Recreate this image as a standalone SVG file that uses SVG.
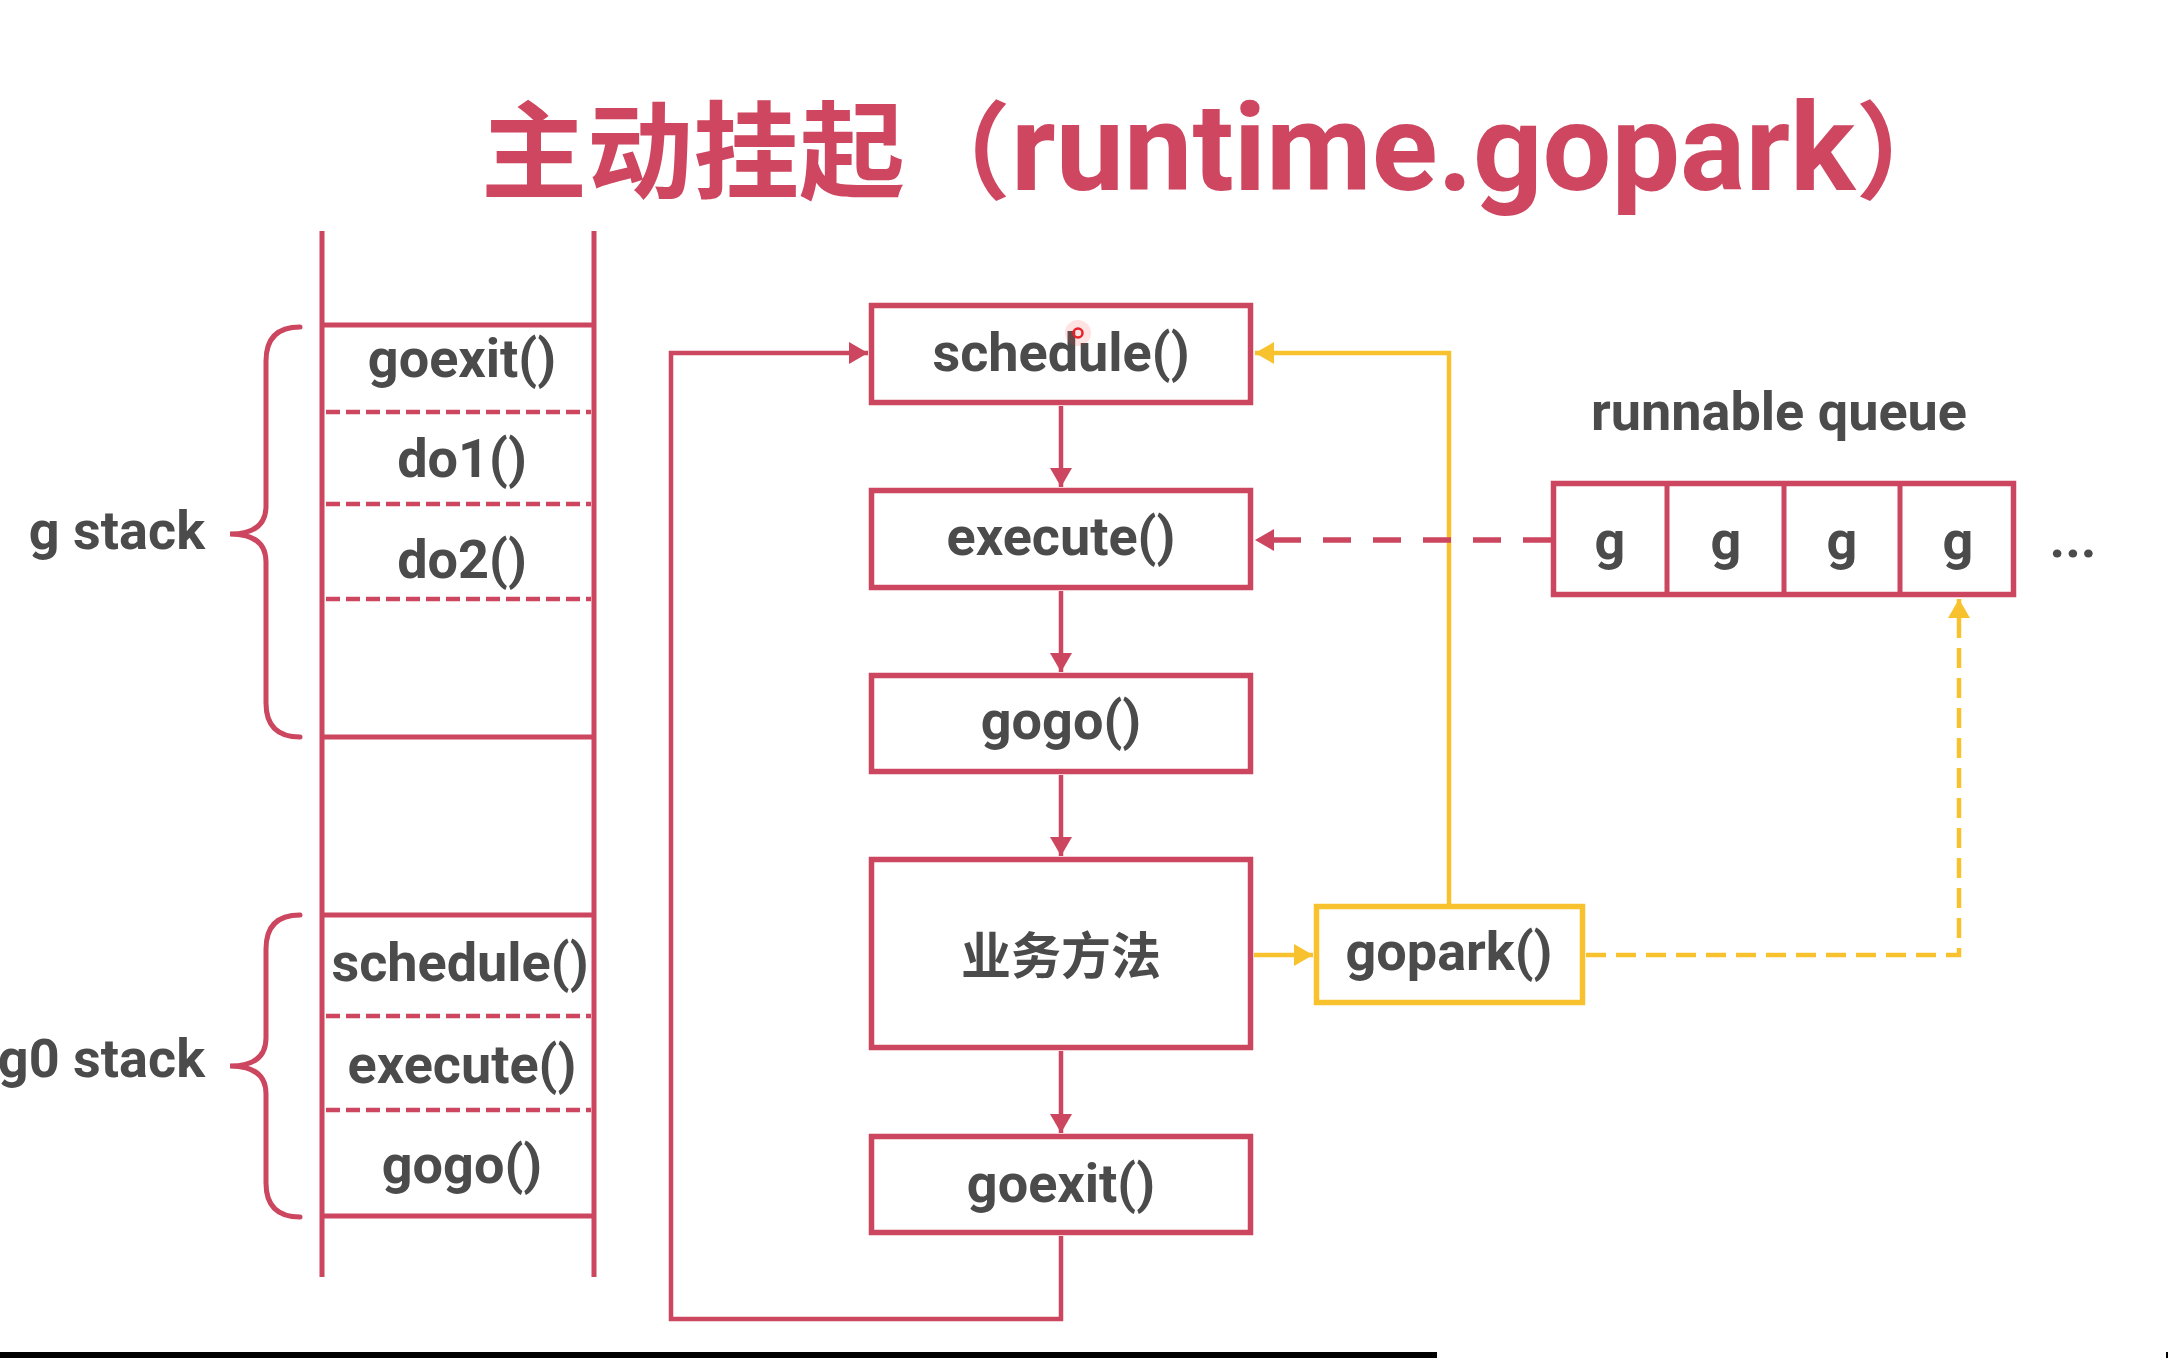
<svg xmlns="http://www.w3.org/2000/svg" width="2168" height="1358" viewBox="0 0 2168 1358">
<style>
.lbl{font-family:Roboto,'Noto Sans CJK SC',sans-serif;font-weight:700;font-size:54px;fill:#4B4B4B;text-anchor:middle}
.cjk{font-family:'Noto Sans CJK SC',sans-serif;font-weight:700;font-size:50px;fill:#4B4B4B;text-anchor:middle}
.side{font-family:Roboto,'Noto Sans CJK SC',sans-serif;font-weight:700;font-size:54px;fill:#4B4B4B;text-anchor:end}
.title{font-family:'Noto Sans CJK SC',sans-serif;font-weight:700;font-size:106px;fill:#CF4660}
.tl{font-family:Roboto,'Noto Sans CJK SC',sans-serif;font-size:122px}
.box{fill:#fff;stroke:#CB465E;stroke-width:5.5}
.ybox{fill:#fff;stroke:#F8C22E;stroke-width:5.5}
.stk{stroke:#CB465E;stroke-width:5;fill:none}
.dsh{stroke:#CB465E;stroke-width:4.5;stroke-dasharray:14 6;fill:none}
.brace{stroke:#CB465E;stroke-width:5;fill:none;stroke-linecap:round}
.rarr{stroke:#CB465E;stroke-width:4.5;fill:none;marker-end:url(#ra)}
.rdash{stroke:#CB465E;stroke-width:5.5;fill:none;stroke-dasharray:28 22;marker-end:url(#ra)}
.yarr{stroke:#F8C22E;stroke-width:4.5;fill:none;marker-end:url(#ya)}
.ydash{stroke:#F8C22E;stroke-width:4.5;fill:none;stroke-dasharray:20 10;marker-end:url(#ya)}
</style>
<defs>
<marker id="ra" markerUnits="userSpaceOnUse" markerWidth="20" markerHeight="22" refX="19" refY="11" orient="auto" viewBox="0 0 20 22">
<path d="M0,0 L19,11 L0,22 Z" fill="#CB465E"/>
</marker>
<marker id="ya" markerUnits="userSpaceOnUse" markerWidth="20" markerHeight="22" refX="19" refY="11" orient="auto" viewBox="0 0 20 22">
<path d="M0,0 L19,11 L0,22 Z" fill="#F8C22E"/>
</marker>
</defs>
<rect x="0" y="0" width="2168" height="1358" fill="#fff"/>

<g id="title">
<text class="title" x="481" y="190">主动挂起（<tspan class="tl">runtime.gopark</tspan>）</text>
</g>

<g id="stack">
<line class="stk" x1="322" y1="231" x2="322" y2="1277"/>
<line class="stk" x1="594" y1="231" x2="594" y2="1277"/>
<line class="stk" x1="322" y1="325" x2="594" y2="325" stroke-width="5.5"/>
<line class="stk" x1="322" y1="737" x2="594" y2="737" stroke-width="5.5"/>
<line class="stk" x1="322" y1="915" x2="594" y2="915" stroke-width="5.5"/>
<line class="stk" x1="322" y1="1216" x2="594" y2="1216" stroke-width="5.5"/>
<line class="dsh" x1="326" y1="412" x2="591" y2="412"/>
<line class="dsh" x1="326" y1="504" x2="591" y2="504"/>
<line class="dsh" x1="326" y1="599" x2="591" y2="599"/>
<line class="dsh" x1="326" y1="1016" x2="591" y2="1016"/>
<line class="dsh" x1="326" y1="1110" x2="591" y2="1110"/>
<text class="lbl" x="462" y="377">goexit()</text>
<text class="lbl" x="462" y="477">do1()</text>
<text class="lbl" x="462" y="578">do2()</text>
<text class="lbl" x="460" y="981">schedule()</text>
<text class="lbl" x="462" y="1083">execute()</text>
<text class="lbl" x="462" y="1183">gogo()</text>
</g>

<g id="g-stack">
<path class="brace" d="M300,327 Q266,327 266,361 L266,506 Q266,534 230,534 Q266,534 266,562 L266,703 Q266,737 300,737"/>
<text class="side" x="205" y="549">g stack</text>
</g>

<g id="g0-stack">
<path class="brace" d="M300,915 Q266,915 266,949 L266,1038 Q266,1066 230,1066 Q266,1066 266,1094 L266,1183 Q266,1217 300,1217"/>
<text class="side" x="205" y="1077">g0 stack</text>
</g>

<g id="connectors">
<line class="rarr" x1="1061" y1="406" x2="1061" y2="487"/>
<line class="rarr" x1="1061" y1="591" x2="1061" y2="672"/>
<line class="rarr" x1="1061" y1="775" x2="1061" y2="856"/>
<line class="rarr" x1="1061" y1="1051" x2="1061" y2="1133"/>
<path class="rarr" d="M1061,1236 V1319 H671 V353 H868"/>
<path class="yarr" d="M1449,904 V353 H1255"/>
<path class="yarr" d="M1254,955 H1313"/>
<path class="ydash" d="M1586,955 H1959 V599"/>
<path class="rdash" d="M1551,540 H1255"/>
</g>

<g id="schedule">
<rect class="box" x="871.5" y="305.5" width="379" height="97"/>
<text class="lbl" x="1061" y="371">schedule()</text>
</g>
<g id="execute">
<rect class="box" x="871.5" y="490.5" width="379" height="97"/>
<text class="lbl" x="1061" y="555">execute()</text>
</g>
<g id="gogo">
<rect class="box" x="871.5" y="675.5" width="379" height="96"/>
<text class="lbl" x="1061" y="739">gogo()</text>
</g>
<g id="business">
<rect class="box" x="871.5" y="859.5" width="379" height="188"/>
<text class="cjk" x="1061" y="974">业务方法</text>
</g>
<g id="goexit">
<rect class="box" x="871.5" y="1136.5" width="379" height="96"/>
<text class="lbl" x="1061" y="1202">goexit()</text>
</g>
<g id="gopark">
<rect class="ybox" x="1316.5" y="906.5" width="266" height="96"/>
<text class="lbl" x="1449" y="970">gopark()</text>
</g>

<g id="runnable-queue">
<text class="lbl" x="1779" y="430" font-size="56">runnable queue</text>
<rect class="box" x="1553.5" y="483.5" width="460" height="111"/>
<line class="stk" x1="1667" y1="483.5" x2="1667" y2="594.5" stroke-width="5.5"/>
<line class="stk" x1="1784" y1="483.5" x2="1784" y2="594.5" stroke-width="5.5"/>
<line class="stk" x1="1900" y1="483.5" x2="1900" y2="594.5" stroke-width="5.5"/>
<text class="lbl" x="1610" y="559">g</text>
<text class="lbl" x="1726" y="559">g</text>
<text class="lbl" x="1842" y="559">g</text>
<text class="lbl" x="1958" y="559">g</text>
<text class="lbl" x="2073" y="557">...</text>
</g>

<g id="cursor">
<circle cx="1078" cy="333" r="13" fill="#FF3B3B" fill-opacity="0.15"/>
<circle cx="1078" cy="333" r="4.5" fill="none" stroke="#E8202A" stroke-width="2.5"/>
</g>

<rect x="0" y="1352" width="1437" height="6" fill="#000"/>
<rect x="2166" y="1352" width="2" height="6" fill="#000"/>
</svg>
